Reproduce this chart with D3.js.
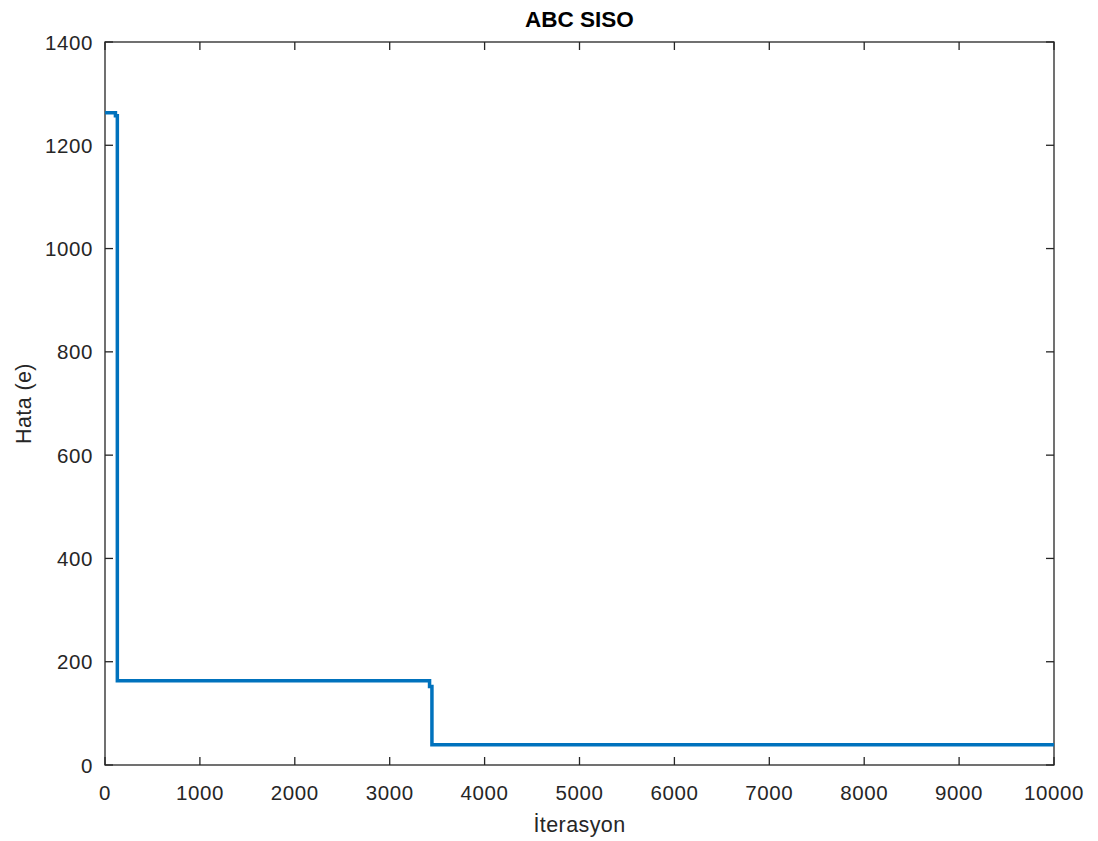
<!doctype html>
<html>
<head>
<meta charset="utf-8" />
<script src="https://cdn.jsdelivr.net/npm/d3@7"></script>
<style>
  body { margin: 0; background: #fff; }
  text { font-family: "Liberation Sans", Arial, sans-serif; }
</style>
</head>
<body>
<script>
 // step values of the best error over the iterations
 var iterations = [1, 110, 130, 3420, 3445, 10000];
 var errors = [1263, 1257, 163, 152, 39, 39];
 var xTicks = d3.range(0, 10001, 1000);
 var yTicks = d3.range(0, 1401, 200);

 var w = 1098, h = 841;
 var m = {left: 105, right: 44, top: 42, bottom: 76};

 var svg = d3.select("body").append("svg")
     .attr("width", w)
     .attr("height", h);

 var x = d3.scaleLinear().domain([0, 10000]).range([m.left, w - m.right]);
 var y = d3.scaleLinear().domain([0, 1400]).range([h - m.bottom, m.top]);

 var axisColor = "#262626";
 var fs = "20.5px";

 // frame
 svg.append("rect")
    .attr("x", x(0)).attr("y", y(1400))
    .attr("width", x(10000) - x(0)).attr("height", y(0) - y(1400))
    .attr("fill", "none").attr("stroke", axisColor).attr("stroke-width", 1.3);

 var tl = 8;
 // inward ticks on all four sides
 xTicks.forEach(function(t){
     svg.append("line").attr("x1", x(t)).attr("x2", x(t))
        .attr("y1", y(0)).attr("y2", y(0) - tl).attr("stroke", axisColor).attr("stroke-width", 1.3);
     svg.append("line").attr("x1", x(t)).attr("x2", x(t))
        .attr("y1", y(1400)).attr("y2", y(1400) + tl).attr("stroke", axisColor).attr("stroke-width", 1.3);
 });
 yTicks.forEach(function(t){
     svg.append("line").attr("x1", x(0)).attr("x2", x(0) + tl)
        .attr("y1", y(t)).attr("y2", y(t)).attr("stroke", axisColor).attr("stroke-width", 1.3);
     svg.append("line").attr("x1", x(10000)).attr("x2", x(10000) - tl)
        .attr("y1", y(t)).attr("y2", y(t)).attr("stroke", axisColor).attr("stroke-width", 1.3);
 });

 svg.selectAll(".xl").data(xTicks).enter().append("text")
    .attr("x", function(d){ return x(d); })
    .attr("y", y(0) + 35)
    .attr("text-anchor", "middle")
    .attr("font-size", fs).attr("fill", axisColor)
    .attr("letter-spacing", "0.6px")
    .text(function(d){ return d; });

 svg.selectAll(".yl").data(yTicks).enter().append("text")
    .attr("x", x(0) - 12)
    .attr("y", function(d){ return y(d) + 7.5; })
    .attr("text-anchor", "end")
    .attr("font-size", fs).attr("fill", axisColor)
    .attr("letter-spacing", "0.6px")
    .text(function(d){ return d; });

 // line
 var line = d3.line()
     .x(function(d){ return x(d[0]); })
     .y(function(d){ return y(d[1]); })
     .curve(d3.curveStepAfter);

 svg.append("path")
    .datum(d3.zip(iterations, errors))
    .attr("d", line)
    .attr("fill", "none")
    .attr("stroke", "#0072BD")
    .attr("stroke-width", 3.5);

 // labels
 svg.append("text")
    .attr("x", (x(0) + x(10000)) / 2).attr("y", 27)
    .attr("text-anchor", "middle")
    .attr("font-size", "22.5px").attr("font-weight", "bold").attr("fill", "#000")
    .text("ABC SISO");

 svg.append("text")
    .attr("x", (x(0) + x(10000)) / 2).attr("y", 832)
    .attr("text-anchor", "middle")
    .attr("font-size", "21.5px").attr("fill", axisColor)
    .attr("letter-spacing", "0.4px")
    .text("İterasyon");

 svg.append("text")
    .attr("transform", "translate(31," + ((y(0) + y(1400)) / 2) + ") rotate(-90)")
    .attr("text-anchor", "middle")
    .attr("font-size", "21.5px").attr("fill", axisColor)
    .attr("letter-spacing", "0.4px")
    .text("Hata (e)");
</script>
</body>
</html>
